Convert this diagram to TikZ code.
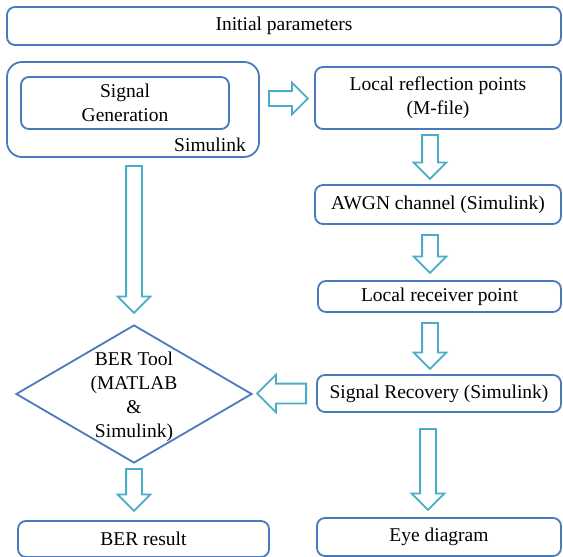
\documentclass[tikz,border=0pt]{standalone}
\usepackage{fontspec}
\setmainfont{Liberation Serif}
\usepackage{tikz}
\usetikzlibrary{shapes.geometric, shapes.arrows, positioning}
\definecolor{boxblue}{RGB}{74,122,187}
\definecolor{arrowteal}{RGB}{75,172,198}

\begin{document}
\begin{tikzpicture}[
    x=1pt, y=-1pt,
    every node/.style={font=\fontsize{19.5}{24}\selectfont},
    block/.style={rectangle, draw=boxblue, line width=1.8pt, rounded corners=8pt, align=center, inner sep=0pt},
    decision/.style={diamond, draw=boxblue, line width=1.8pt, inner sep=0pt},
    blockarrow/.style={single arrow, draw=arrowteal, line width=1.8pt, inner xsep=0pt, inner ysep=7pt, single arrow head extend=8.5pt, anchor=tail}
]
    \useasboundingbox (0,0) rectangle (563,557);

    % Top
    \node[block, minimum width=554pt, minimum height=38pt] (init) at (284,26) {Initial parameters};

    % Simulink part
    \node[block, rounded corners=15pt, minimum width=252pt, minimum height=95pt] (simbox) at (133,109.5) {};
    \node[block, minimum width=208pt, minimum height=52pt] (siggen) at (125,103) {Signal\\Generation};
    \node (simlabel) at (210,145) {Simulink};

    % Right column
    \node[block, minimum width=246pt, minimum height=62pt] (reflect) at (438,98) {Local reflection points\\(M-file)};
    \node[block, minimum width=246pt, minimum height=39pt] (awgn) at (438,204.5) {AWGN channel (Simulink)};
    \node[block, minimum width=243pt, minimum height=31pt] (recv) at (439.5,296.5) {Local receiver point};
    \node[block, minimum width=244pt, minimum height=37pt] (recov) at (439,393.5) {Signal Recovery (Simulink)};
    \node[block, minimum width=244pt, minimum height=38pt] (eye) at (439,537) {Eye diagram};

    % BER tool
    \node[decision, minimum width=236pt, minimum height=138pt] (ber) at (134,394) {};
    \node[align=center, yshift=-3pt] (bertext) at (ber) {BER Tool\\(MATLAB\\\&\\Simulink)};
    \node[block, minimum width=251pt, minimum height=36pt] (berres) at (143.5,539) {BER result};

    % Arrows (placed by their tails)
    \node[blockarrow, rotate=-90, minimum height=147pt] (gen2ber) at (134,165) {};
    \node[blockarrow, inner ysep=6.5pt, minimum height=39pt] (gen2refl) at (268,98.5) {};
    \node[blockarrow, rotate=-90, minimum height=44pt] (refl2awgn) at (430,134) {};
    \node[blockarrow, rotate=-90, minimum height=38pt] (awgn2recv) at (430,234) {};
    \node[blockarrow, rotate=-90, minimum height=46pt] (recv2recov) at (430,322) {};
    \node[blockarrow, rotate=180, inner ysep=9pt, single arrow head extend=9pt, minimum height=49pt] (recov2ber) at (307,393.5) {};
    \node[blockarrow, rotate=-90, minimum height=42pt] (ber2res) at (134,468) {};
    \node[blockarrow, rotate=-90, minimum height=81pt] (recov2eye) at (428,428) {};
\end{tikzpicture}
\end{document}
